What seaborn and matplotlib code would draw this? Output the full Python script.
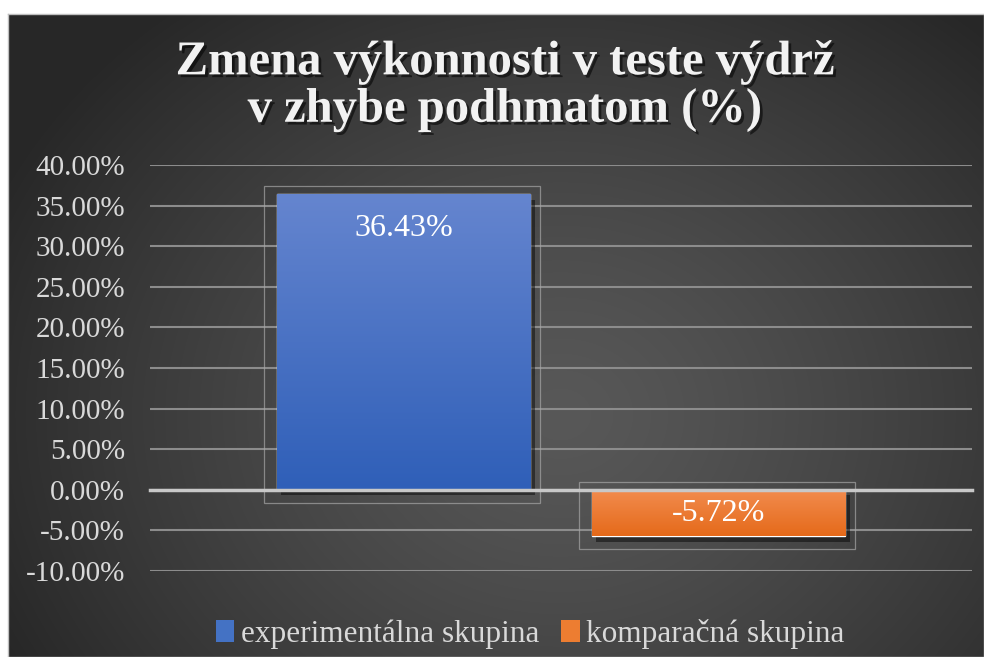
import numpy as np
import pandas as pd
import matplotlib
matplotlib.use("Agg")
import matplotlib.pyplot as plt
import matplotlib.patheffects as pe
from matplotlib.patches import Patch, Rectangle
import seaborn as sns

groups = ["experimentálna skupina", "komparačná skupina"]
changes = [36.43, -5.72]
bar_colors = ["#4472c4", "#ed7d31"]
grad_top = ["#6585cf", "#f28c4f"]
grad_bottom = ["#2f5fb8", "#e56a1a"]
yticks = [-10, -5, 0, 5, 10, 15, 20, 25, 30, 35, 40]
title = "Zmena výkonnosti v teste výdrž\nv zhybe podhmatom (%)"

sns.set_theme(style="white")
plt.rcParams['font.family'] = ['Liberation Serif', 'DejaVu Serif']

W, H = 984, 657
fig = plt.figure(figsize=(W / 100, H / 100), dpi=100, facecolor="white")

# dark radial background of the chart area
ax_bg = fig.add_axes([8 / W, 0, (W - 8) / W, (H - 14) / H], zorder=-5)
gy, gx = np.mgrid[0:643, 0:976]
cx, cy = 552, 400
d = np.sqrt(((gx - cx) / 620.0) ** 2 + ((gy - cy) / 520.0) ** 2)
d = np.clip(d, 0, 1)
inner, outer = 0.345, 0.155
img = inner + (outer - inner) * d ** 1.3
ax_bg.imshow(np.dstack([img, img, img]), aspect="auto", interpolation="bilinear")
ax_bg.set_xticks([])
ax_bg.set_yticks([])
for s in ax_bg.spines.values():
    s.set_color("#bfbfbf")
    s.set_linewidth(1)

ax = fig.add_axes([150 / W, 1 - 571 / H, 822 / W, 406 / H])
ax.set_facecolor("none")

df = pd.DataFrame({"skupina": groups, "zmena": changes})
sns.barplot(data=df, x="skupina", y="zmena", hue="skupina", order=groups,
            hue_order=groups, palette=bar_colors, width=0.806, legend=False,
            saturation=1, ax=ax, zorder=3)

ax.set_xlim(-0.805, 1.805)
ax.set_ylim(-10, 40)
ax.set_yticks(yticks)
ax.set_yticklabels([f"{v:.2f}%" for v in yticks], fontsize=21, color="#d9d9d9")
ax.tick_params(axis="y", length=0, pad=18)
ax.yaxis.grid(True, color="#8c8c8c", linewidth=1.5, zorder=0)
ax.set_axisbelow(True)
ax.set_xlabel("")
ax.set_ylabel("")

# category axis along zero with end ticks
for side in ["left", "right", "top"]:
    ax.spines[side].set_visible(False)
ax.spines["bottom"].set_position(("data", 0))
ax.spines["bottom"].set_color("#c8c8c8")
ax.spines["bottom"].set_linewidth(2.5)
ax.spines["bottom"].set_zorder(4)
ax.set_xticks([-0.805, 1.805])
ax.set_xticklabels(["", ""])
ax.tick_params(axis="x", length=7, width=3, color="#c8c8c8", direction="out")

px_x = 822 / 2.61
px_y = 406 / 50.0
for i, patch in enumerate(ax.patches):
    patch.set_path_effects([pe.SimplePatchShadow(offset=(3, -4), shadow_rgbFace="black", alpha=0.45), pe.Normal()])
    b = patch.get_bbox()
    x0, x1 = b.x0, b.x1
    y0, y1 = min(b.y0, b.y1), max(b.y0, b.y1)
    grad = np.linspace(0, 1, 200)[:, None]
    top = np.array(matplotlib.colors.to_rgb(grad_top[i]))
    bot = np.array(matplotlib.colors.to_rgb(grad_bottom[i]))
    cols = top[None, None, :] * (1 - grad[..., None]) + bot[None, None, :] * grad[..., None]
    im = ax.imshow(cols, extent=(x0, x1, y0, y1), aspect="auto", zorder=3.5, origin="upper")
    im.set_clip_path(patch)
    # faint frame around the bar
    ax.add_patch(Rectangle((x0 - 13 / px_x, y0 - 13 / px_y), (x1 - x0) + 23 / px_x,
                           (y1 - y0) + 21 / px_y, fill=False, edgecolor="#a6a6a6",
                           linewidth=0.9, alpha=0.7, zorder=2))
    val = changes[i]
    off = -35 if val > 0 else 23
    ax.annotate(f"{val:.2f}%", xy=((x0 + x1) / 2, val), xytext=(0, off * 0.72),
                textcoords="offset points", ha="center", va="center",
                fontsize=23, color="white", zorder=6)

ax.set_xlim(-0.805, 1.805)

fig.text(505 / W, 1 - 86 / H, title, ha="center", va="center", fontsize=35,
         fontweight="bold", color="#f2f2f2", linespacing=1.1,
         path_effects=[pe.SimplePatchShadow(offset=(2, -2), shadow_rgbFace="black", alpha=0.55), pe.Normal()])

handles = [Patch(facecolor=c, edgecolor="none") for c in bar_colors]
fig.legend(handles, groups, loc="center", bbox_to_anchor=(530 / W, 1 - 634 / H), ncol=2,
           frameon=False, fontsize=22.5, labelcolor="#d9d9d9", handlelength=0.6,
           handleheight=0.7, handletextpad=0.2, columnspacing=0.7)

fig.savefig("out.png", dpi=100, facecolor="white")
